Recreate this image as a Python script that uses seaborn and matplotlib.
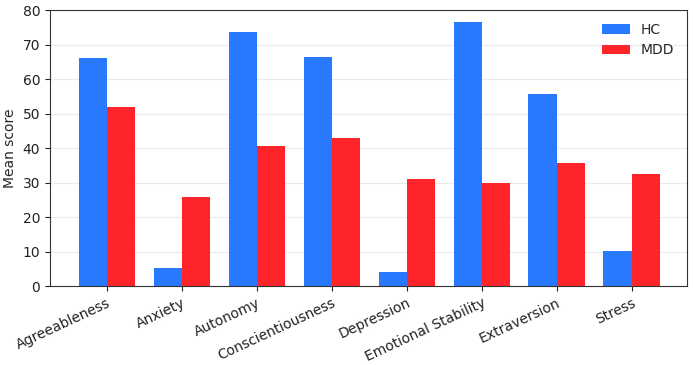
import pandas as pd
import seaborn as sns
import matplotlib.pyplot as plt

traits = ['Agreeableness', 'Anxiety', 'Autonomy', 'Conscientiousness',
          'Depression', 'Emotional Stability', 'Extraversion', 'Stress']
hc_scores = [66.1, 5.3, 73.6, 66.5, 4.2, 76.4, 55.7, 10.2]
mdd_scores = [51.8, 25.9, 40.6, 42.9, 31.1, 29.9, 35.6, 32.5]

df = pd.DataFrame({
    'trait': traits * 2,
    'score': hc_scores + mdd_scores,
    'group': ['HC'] * len(traits) + ['MDD'] * len(traits),
})

sns.set_style('white')
plt.rcParams['font.family'] = ['DejaVu Sans']

fig, ax = plt.subplots(figsize=(6.93, 3.65), dpi=100)
sns.barplot(data=df, x='trait', y='score', hue='group',
            palette={'HC': '#2979ff', 'MDD': '#ff2429'},
            width=0.75, edgecolor='none', saturation=1, ax=ax)

ax.set_ylim(0, 80)
ax.set_xlim(-0.76, 7.74)
ax.set_xlabel('')
ax.set_ylabel('Mean score', fontsize=10)
ax.yaxis.grid(True, color='#ebebeb', linewidth=0.8)
ax.set_axisbelow(True)
ax.tick_params(axis='both', labelsize=10, length=3.5, width=0.8,
               bottom=True, left=True, colors='#222222')
plt.setp(ax.get_xticklabels(), rotation=25, ha='right', rotation_mode='anchor')
for s in ax.spines.values():
    s.set_color('#333333')
ax.legend(title=None, frameon=False, fontsize=10, loc='upper right')

fig.subplots_adjust(left=0.0722, right=0.9913, top=0.9726, bottom=0.2164)
fig.savefig('out.png', dpi=100)
